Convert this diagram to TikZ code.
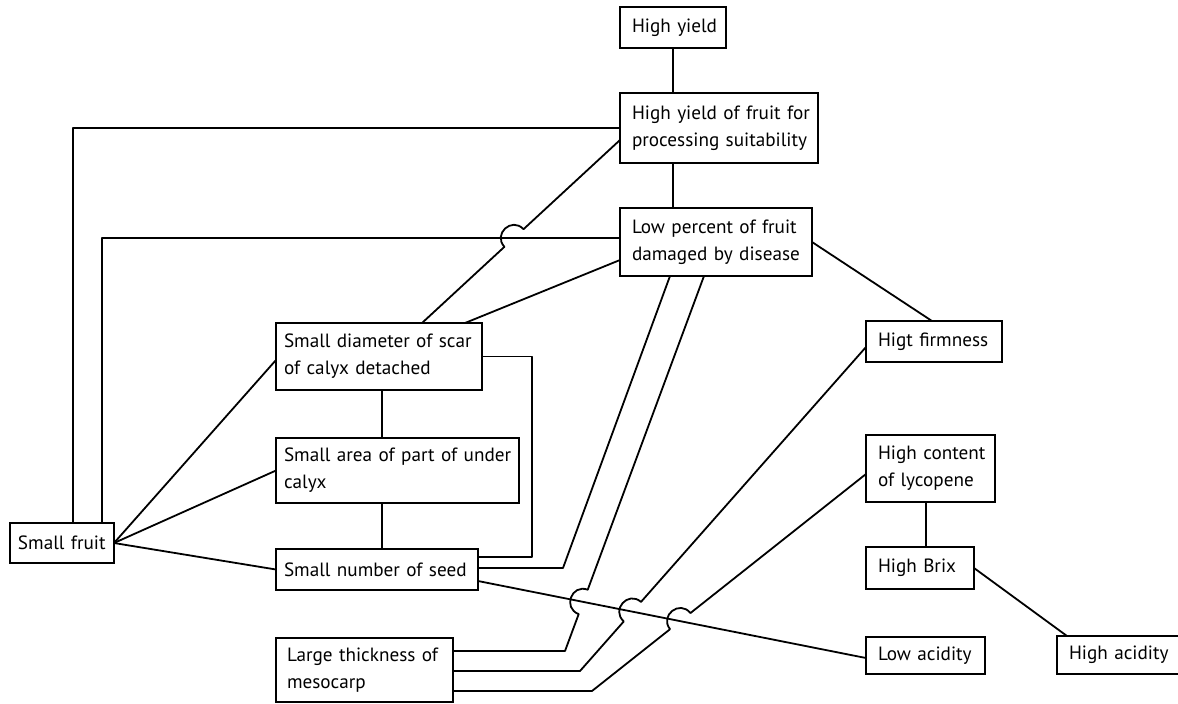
\documentclass[tikz,border=0pt]{standalone}
\usepackage{fontspec}
\setmainfont{PT Sans}
\newcommand\boxfont{\fontsize{9.6}{13.5}\selectfont}
\newcommand\oneline[1]{\mbox{#1}}
\begin{document}
\begin{tikzpicture}[x=0.5pt,y=-0.5pt,
  box/.style={draw, line width=1pt, anchor=north west, align=left,
    inner xsep=6pt, inner ysep=0pt, outer sep=0pt, font=\boxfont},
  link/.style={line width=0.9pt, line join=round}]
\useasboundingbox (0,0) rectangle (1178,703);
% boxes
\node[box, text width=41pt, minimum height=20.5pt] (hy) at (620,7) {\oneline{High yield}};
\node[box, text width=87pt, minimum height=35pt] (hyf) at (620,93) {\oneline{High yield of fruit for}\\\oneline{processing suitability}};
\node[box, text width=84pt, minimum height=34pt] (lp) at (620,208) {\oneline{Low percent of fruit}\\\oneline{damaged by disease}};
\node[box, text width=56pt, minimum height=20.5pt] (hf) at (866,321) {\oneline{Higt firmness}};
\node[box, inner xsep=4pt, text width=95pt, minimum height=33.5pt] (sd) at (276,323) {\oneline{Small diameter of scar}\\\oneline{of calyx detached}};
\node[box, inner xsep=4pt, text width=113.5pt, minimum height=32.5pt] (sa) at (276,438) {\oneline{Small area of part of under}\\\oneline{calyx}};
\node[box, inner xsep=4pt, text width=93pt, minimum height=20.5pt] (sn) at (276,549) {\oneline{Small number of seed}};
\node[box, inner xsep=4pt, text width=44pt, minimum height=20pt] (sf) at (10,523) {\oneline{Small fruit}};
\node[box, inner xsep=5.5pt, text width=77.5pt, minimum height=32pt] (mc) at (276,638) {\oneline{Large thickness of}\\\oneline{mesocarp}};
\node[box, text width=52.5pt, minimum height=33.5pt] (hc) at (866,435) {\oneline{High content}\\\oneline{of lycopene}};
\node[box, text width=42pt, minimum height=21pt] (hb) at (866,547) {\oneline{High Brix}};
\node[box, text width=47.5pt, minimum height=18.5pt] (la) at (866,637) {\oneline{Low acidity}};
\node[box, text width=54.5pt, minimum height=19pt] (ha) at (1057,636) {\oneline{High acidity}};
% connectors
\draw[link] (hy.south) -- (hy.south |- hyf.north);
\draw[link] (hy.south |- hyf.south) -- (hy.south |- lp.north);
\draw[link] (hyf.west) -| ([xshift=5.5pt]sf.north);
\draw[link] ([yshift=2pt]lp.west) -| ([xshift=20pt]sf.north);
\draw[link] ([yshift=-6pt]hyf.west) -- (523.52,229.18) .. controls (511.75,216.45) and (492.66,234.09) .. (504.42,246.82) -- ([xshift=21.5pt]sd.north);
\draw[link] ([yshift=-9pt]lp.west) -- ([xshift=43pt]sd.north);
\draw[link] (lp.east) -- ([xshift=-1pt]hf.north);
\coordinate (k1) at (563,568);
\draw[link] ([xshift=-23pt]lp.south) -- (k1) -- (k1 -| sn.east);
\draw[link] ([xshift=-6pt]lp.south) -- (587.73,589.69) .. controls (571.48,583.67) and (562.45,608.05) .. (578.7,614.07) -- (565,651) -- ([yshift=9.5pt]mc.east);
\draw[link] (sd.east) -| (532,557) -- ([yshift=6.25pt]sn.east);
\coordinate (vx) at ([xshift=1.5pt]sd.south);
\draw[link] (vx) -- (vx |- sa.north);
\draw[link] (vx |- sa.south) -- (vx |- sn.north);
\draw[link] (sf.east) -- ([yshift=-1.75pt]sd.west);
\draw[link] (sf.east) -- (sa.west);
\draw[link] (sf.east) -- (sn.west);
\draw[link] ([yshift=-5.75pt]sn.east) -- ([yshift=-1.25pt]la.west);
\draw[link] ([yshift=-0.5pt]mc.east) -- (580,671) -- (623.80,621.39) .. controls (610.81,609.92) and (628.01,590.42) .. (641.00,601.89) -- ([yshift=-2.75pt]hf.west);
\draw[link] ([yshift=-10.5pt]mc.east) -- (592,691) -- (670.03,629.20) .. controls (659.27,615.61) and (679.65,599.47) .. (690.41,613.06) -- ([yshift=-2.75pt]hc.west);
\coordinate (vy) at ([xshift=-2.25pt]hc.south);
\draw[link] (vy) -- (vy |- hb.north);
\draw[link] (hb.east) -- ([xshift=5pt]ha.north west);
\end{tikzpicture}
\end{document}
